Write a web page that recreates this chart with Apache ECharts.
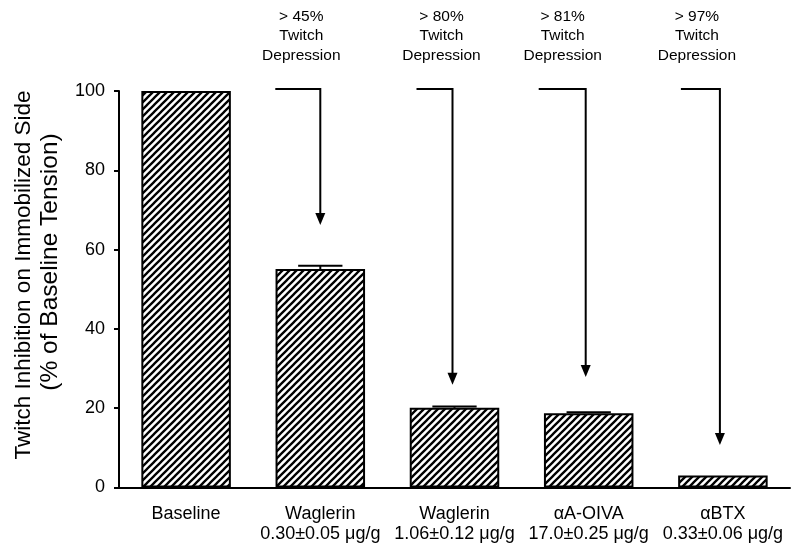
<!DOCTYPE html>
<html>
<head>
<meta charset="utf-8">
<script src="https://cdn.jsdelivr.net/npm/echarts@6/dist/echarts.min.js"></script>
<style>html,body{margin:0;padding:0;background:#fff}#c{width:800px;height:555px}</style>
</head>
<body>
<div id="c"></div>
<script>
// ---- data ----
const categories = ['Baseline', 'Waglerin\n0.30±0.05 μg/g', 'Waglerin\n1.06±0.12 μg/g', 'αA-OIVA\n17.0±0.25 μg/g', 'αBTX\n0.33±0.06 μg/g'];
const values = [100, 55.1, 20.1, 18.7, 3.0];
const errors = [0, 0.85, 0.3, 0.25, 0];
const yTicks = [0, 20, 40, 60, 80, 100];
const arrowCategory = [1, 2, 3, 4];
const arrowTop = [100.5, 100.5, 100.5, 100.5];
const arrowTip = [66.2, 25.9, 27.9, 10.7];
const annotations = ['> 45%\nTwitch\nDepression', '> 80%\nTwitch\nDepression', '> 81%\nTwitch\nDepression', '> 97%\nTwitch\nDepression'];
const yTitle1 = 'Twitch Inhibition on Immobilized Side';
const yTitle2 = '(% of Baseline Tension)';

// ---- layout / style constants ----
const FONT = "'Liberation Sans', Arial, sans-serif";
const arrowDx = [0, -2, -3, -3];
const hookLen = [45, 36, 47, 39];
const textDx = [-19, -11, -23, -23];

function hatch() {
  const s = 7, c = document.createElement('canvas');
  c.width = s; c.height = s;
  const g = c.getContext('2d');
  g.fillStyle = '#fff'; g.fillRect(0, 0, s, s);
  g.strokeStyle = '#000'; g.lineWidth = 2.3;
  g.beginPath();
  g.moveTo(-1, s + 1); g.lineTo(s + 1, -1);
  g.moveTo(-1, 1); g.lineTo(1, -1);
  g.moveTo(s - 1, s + 1); g.lineTo(s + 1, s - 1);
  g.stroke();
  return c;
}

const chart = echarts.init(document.getElementById('c'), null, {renderer: 'canvas'});
chart.setOption({
  animation: false,
  backgroundColor: '#fff',
  textStyle: {fontFamily: FONT, color: '#000'},
  grid: {left: 119, right: 10, top: 91, bottom: 67.5},
  xAxis: {
    type: 'category',
    data: categories,
    axisLine: {lineStyle: {color: '#000', width: 2}},
    axisTick: {alignWithLabel: true, length: 5, lineStyle: {color: '#000', width: 2}},
    axisLabel: {fontSize: 18, lineHeight: 20, color: '#000', margin: 17, fontFamily: FONT, interval: 0}
  },
  yAxis: {
    type: 'value', min: 0, max: 100, interval: 20,
    axisLine: {show: true, lineStyle: {color: '#000', width: 2}},
    axisTick: {show: true, length: 5, lineStyle: {color: '#000', width: 2}},
    axisLabel: {fontSize: 18, color: '#000', margin: 14, fontFamily: FONT,
      formatter: v => yTicks.includes(v) ? String(v) : ''},
    splitLine: {show: false}
  },
  graphic: [
    {type: 'text', x: 23.5, y: 275, rotation: Math.PI / 2,
      style: {text: yTitle1, font: '22.5px ' + FONT, fill: '#000', align: 'center', verticalAlign: 'middle'}},
    {type: 'text', x: 50, y: 262, rotation: Math.PI / 2,
      style: {text: yTitle2, font: '24.5px ' + FONT, fill: '#000', align: 'center', verticalAlign: 'middle'}}
  ],
  series: [
    {
      type: 'bar',
      data: values,
      barWidth: '66.7%',
      itemStyle: {color: {image: hatch(), repeat: 'repeat'}, borderColor: '#000', borderWidth: 2},
      z: 2
    },
    {
      type: 'custom',
      z: 3,
      data: values.map((v, i) => [i, v, errors[i]]),
      renderItem(params, api) {
        const i = api.value(0), v = api.value(1), e = api.value(2);
        if (!e) return null;
        const base = api.coord([i, v]);
        const top = api.coord([i, v + e]);
        const half = api.size([1, 0])[0] * 0.165;
        const st = {stroke: '#000', lineWidth: 2};
        return {type: 'group', children: [
          {type: 'line', shape: {x1: base[0], y1: base[1], x2: top[0], y2: top[1]}, style: st},
          {type: 'line', shape: {x1: top[0] - half, y1: top[1], x2: top[0] + half, y2: top[1]}, style: st}
        ]};
      }
    },
    {
      type: 'custom',
      z: 4,
      data: arrowCategory.map((c, k) => [c, arrowTop[k], arrowTip[k], k]),
      renderItem(params, api) {
        const c = api.value(0), tv = api.value(1), pv = api.value(2), k = api.value(3);
        const top = api.coord([c, tv]);
        const tip = api.coord([c, pv]);
        const x = top[0] + arrowDx[k];
        const st = {stroke: '#000', lineWidth: 2, fill: null};
        return {type: 'group', children: [
          {type: 'polyline', shape: {points: [[x - hookLen[k], top[1]], [x, top[1]], [x, tip[1] - 10]]}, style: st},
          {type: 'polygon', shape: {points: [[x - 5, tip[1] - 12], [x + 5, tip[1] - 12], [x, tip[1]]]}, style: {fill: '#000'}},
          {type: 'text', x: x + textDx[k], y: top[1] - 53,
            style: {text: annotations[k], font: '15.5px ' + FONT, lineHeight: 19.5, fill: '#000', align: 'center', verticalAlign: 'middle'}}
        ]};
      }
    }
  ]
});
</script>
</body>
</html>
